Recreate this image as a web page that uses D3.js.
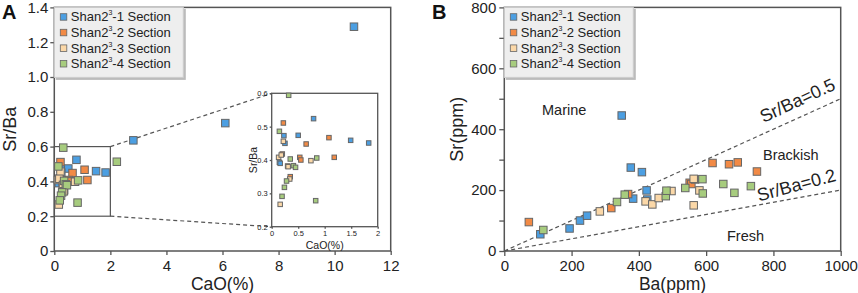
<!DOCTYPE html>
<html>
<head>
<meta charset="utf-8">
<script src="https://cdn.jsdelivr.net/npm/d3@7"></script>
<style>
  body { margin: 0; background: #fff; }
  svg { font-family: "Liberation Sans", Arial, sans-serif; }
</style>
</head>
<body>
<div id="chart"></div>
<script>
// section names and colours
const sections = ["Shan2³-1 Section", "Shan2³-2 Section", "Shan2³-3 Section", "Shan2³-4 Section"];
const colors = ["#4c9fe2", "#f28a45", "#fbd8a8", "#a7cc7e"];

// panel A: [CaO(%), Sr/Ba]
const caoSec1 = [[0.79,0.524],[0.23,0.473],[0.50,0.474],[1.49,0.459],[1.83,0.451],[0.25,0.45],[0.145,0.393],[0.16,0.39],[2.82,0.636],[6.1,0.735],[10.69,1.289]];
const caoSec2 = [[0.22,0.511],[1.08,0.467],[0.65,0.448],[0.2,0.418],[0.53,0.408],[0.55,0.40],[1.18,0.408],[0.3,0.382],[0.35,0.35]];
const caoSec3 = [[0.22,0.456],[0.13,0.408],[0.18,0.415],[0.74,0.398],[0.31,0.38],[0.34,0.343],[0.16,0.267]];
const caoSec4 = [[0.32,0.594],[0.145,0.486],[0.35,0.403],[0.85,0.406],[0.41,0.383],[0.45,0.378],[0.28,0.337],[0.24,0.318],[0.195,0.291],[0.83,0.278],[2.23,0.513]];

// panel B: [Ba(ppm), Sr(ppm)]
const baSec1 = [[107,55],[194,74],[225,100],[246,116],[376,274],[383,172],[409,259],[423,199],[425,169],[349,445]];
const baSec2 = [[73,95],[318,141],[368,187],[551,224],[556,220],[619,289],[668,285],[694,291],[751,261]];
const baSec3 = [[284,130],[420,163],[440,153],[459,174],[497,197],[563,150],[567,235],[580,199],[563,237]];
const baSec4 = [[116,69],[335,161],[358,185],[480,180],[482,198],[538,207],[589,236],[590,189],[651,220],[684,191],[733,213]];

// ticks
const aXTicks = [0,2,4,6,8,10,12];
const aYTicks = [0,0.2,0.4,0.6,0.8,1.0,1.2,1.4];
const insetXTicks = [0,0.5,1,1.5,2];
const insetYTicks = [0.2,0.3,0.4,0.5,0.6];
const bXTicks = [0,200,400,600,800,1000];
const bYTicks = [0,200,400,600,800];
const bYMinor = [100,300,500,700];

// ratio lines
const ratios = [0.5, 0.2];
const ratioLabels = ["Sr/Ba=0.5", "Sr/Ba=0.2"];

const width = 858, height = 293;
const axisColor = "#555";
const textColor = "#222";

const svg = d3.select("#chart").append("svg")
    .attr("width", width)
    .attr("height", height);

function styleAxis(g, size) {
    g.selectAll("path").remove();
    g.selectAll("line").attr("stroke", axisColor).attr("stroke-width", 1.3);
    g.selectAll("text").attr("fill", textColor).attr("font-size", size);
}

function frame(x, y) {
    svg.append("rect")
        .attr("x", x.range()[0]).attr("y", y.range()[1])
        .attr("width", x.range()[1] - x.range()[0])
        .attr("height", y.range()[0] - y.range()[1])
        .attr("fill", "none").attr("stroke", axisColor).attr("stroke-width", 1.5);
}

function points(g, data, x, y, color, size) {
    g.selectAll(null)
        .data(data)
        .enter().append("rect")
        .attr("x", d => x(d[0]) - size / 2)
        .attr("y", d => y(d[1]) - size / 2)
        .attr("width", size).attr("height", size)
        .attr("fill", color)
        .attr("stroke", "#666").attr("stroke-width", 1);
}

function legend(x0, y0) {
    const g = svg.append("g").attr("transform", `translate(${x0},${y0})`);
    g.append("rect").attr("x", 1.5).attr("y", 1.5).attr("width", 130).attr("height", 71).attr("fill", "#bbb");
    g.append("rect").attr("width", 129).attr("height", 70).attr("fill", "#eeeeee").attr("stroke", "#ccc");
    sections.forEach((s, i) => {
        const cy = 9.5 + i * 15.6;
        g.append("rect").attr("x", 6).attr("y", cy - 3.2).attr("width", 6.5).attr("height", 6.5)
            .attr("fill", colors[i]).attr("stroke", "#666").attr("stroke-width", 0.8);
        const t = g.append("text").attr("x", 16.5).attr("y", cy + 4.5)
            .attr("font-size", 13).attr("fill", textColor);
        t.append("tspan").text("Shan2");
        t.append("tspan").text("3").attr("font-size", 7).attr("dy", -6);
        t.append("tspan").text("-" + (i + 1) + " Section").attr("dy", 6);
    });
}

// ---------------- Panel A ----------------
const xA = d3.scaleLinear().domain([0, 12]).range([54.3, 390.7]);
const yA = d3.scaleLinear().domain([0, 1.4]).range([251, 7.4]);

frame(xA, yA);
svg.append("g").attr("transform", `translate(0,${yA(0)})`)
    .call(d3.axisBottom(xA).tickValues(aXTicks).tickSize(4).tickPadding(5).tickFormat(d3.format("d")))
    .call(g => styleAxis(g, 15));
svg.append("g").attr("transform", `translate(${xA(0)},0)`)
    .call(d3.axisLeft(yA).tickValues(aYTicks).tickSize(4).tickPadding(2).tickFormat(d => d === 0 ? "0" : d3.format(".1f")(d)))
    .call(g => styleAxis(g, 15));

// zoom box and connectors
const xI = d3.scaleLinear().domain([0, 2]).range([271.7, 377.7]);
const yI = d3.scaleLinear().domain([0.2, 0.6]).range([226.7, 93.3]);

svg.append("rect")
    .attr("x", xA(0)).attr("y", yA(0.6))
    .attr("width", xA(2) - xA(0)).attr("height", yA(0.2) - yA(0.6))
    .attr("fill", "none").attr("stroke", axisColor).attr("stroke-width", 1.2);

[0.6, 0.2].forEach(v => {
    svg.append("line")
        .attr("x1", xA(2)).attr("y1", yA(v))
        .attr("x2", xI(0)).attr("y2", yI(v))
        .attr("stroke", axisColor).attr("stroke-width", 1.2).attr("stroke-dasharray", "4,3");
});

const gA = svg.append("g");
[caoSec1, caoSec2, caoSec3, caoSec4].forEach((d, i) => points(gA, d, xA, yA, colors[i], 7.5));

// inset
svg.append("rect")
    .attr("x", xI(0)).attr("y", yI(0.6))
    .attr("width", xI(2) - xI(0)).attr("height", yI(0.2) - yI(0.6))
    .attr("fill", "#fff").attr("stroke", axisColor).attr("stroke-width", 1.3);
svg.append("g").attr("transform", `translate(0,${yI(0.2)})`)
    .call(d3.axisBottom(xI).tickValues(insetXTicks).tickSize(2).tickPadding(2).tickFormat(d3.format("")))
    .call(g => styleAxis(g, 7.5));
svg.append("g").attr("transform", `translate(${xI(0)},0)`)
    .call(d3.axisLeft(yI).tickValues(insetYTicks).tickSize(2).tickPadding(2).tickFormat(d3.format(".1f")))
    .call(g => styleAxis(g, 7.5));
svg.append("text").attr("x", (xI(0) + xI(2)) / 2).attr("y", 249)
    .attr("text-anchor", "middle").attr("font-size", 10.5).attr("fill", textColor).text("CaO(%)");
svg.append("text").attr("transform", `translate(257,${(yI(0.2) + yI(0.6)) / 2}) rotate(-90)`)
    .attr("text-anchor", "middle").attr("font-size", 10.5).attr("fill", textColor).text("Sr/Ba");

const gI = svg.append("g");
[caoSec1, caoSec2, caoSec3, caoSec4].forEach((d, i) =>
    points(gI, d.filter(p => p[0] <= 2 && p[1] >= 0.2 && p[1] <= 0.6), xI, yI, colors[i], 4.5));

legend(xA(0), yA(1.4));

svg.append("text").attr("x", (xA(0) + xA(12)) / 2).attr("y", 289.5)
    .attr("text-anchor", "middle").attr("font-size", 17.5).attr("fill", textColor).text("CaO(%)");
svg.append("text").attr("transform", `translate(16,${(yA(0) + yA(1.4)) / 2}) rotate(-90)`)
    .attr("text-anchor", "middle").attr("font-size", 18).attr("fill", textColor).text("Sr/Ba");
svg.append("text").attr("x", 2).attr("y", 19).attr("font-size", 20).attr("font-weight", "bold")
    .attr("fill", "#111").text("A");

// ---------------- Panel B ----------------
const xB = d3.scaleLinear().domain([0, 1000]).range([504.3, 840.7]);
const yB = d3.scaleLinear().domain([0, 800]).range([251, 7.4]);

frame(xB, yB);
svg.append("g").attr("transform", `translate(0,${yB(0)})`)
    .call(d3.axisBottom(xB).tickValues(bXTicks).tickSize(5).tickPadding(4).tickFormat(d3.format("d")))
    .call(g => styleAxis(g, 15));
svg.append("g").attr("transform", `translate(${xB(0)},0)`)
    .call(d3.axisLeft(yB).tickValues(bYTicks).tickSize(5).tickPadding(3).tickFormat(d3.format("d")))
    .call(g => styleAxis(g, 15));
svg.append("g").attr("transform", `translate(${xB(0)},0)`)
    .call(d3.axisLeft(yB).tickValues(bYMinor).tickSize(5).tickFormat(""))
    .call(g => styleAxis(g, 15));

// Sr/Ba ratio lines
ratios.forEach(r => {
    svg.append("line")
        .attr("x1", xB(0)).attr("y1", yB(0))
        .attr("x2", xB(1000)).attr("y2", yB(1000 * r))
        .attr("stroke", axisColor).attr("stroke-width", 1.2).attr("stroke-dasharray", "4,3");
});
svg.append("text").attr("transform", "translate(800,106) rotate(-25)")
    .attr("text-anchor", "middle").attr("font-size", 18).attr("fill", textColor).text(ratioLabels[0]);
svg.append("text").attr("transform", "translate(798,191) rotate(-15)")
    .attr("text-anchor", "middle").attr("font-size", 18).attr("fill", textColor).text(ratioLabels[1]);

svg.append("text").attr("x", 542).attr("y", 115).attr("font-size", 14.5).attr("fill", textColor).text("Marine");
svg.append("text").attr("x", 763).attr("y", 160).attr("font-size", 14.5).attr("fill", textColor).text("Brackish");
svg.append("text").attr("x", 727).attr("y", 241).attr("font-size", 14.5).attr("fill", textColor).text("Fresh");

const gB = svg.append("g");
[baSec1, baSec2, baSec3, baSec4].forEach((d, i) => points(gB, d, xB, yB, colors[i], 7.5));

legend(xB(0), yB(800));

svg.append("text").attr("x", (xB(0) + xB(1000)) / 2).attr("y", 289.5)
    .attr("text-anchor", "middle").attr("font-size", 17.5).attr("fill", textColor).text("Ba(ppm)");
svg.append("text").attr("transform", `translate(463,${(yB(0) + yB(800)) / 2}) rotate(-90)`)
    .attr("text-anchor", "middle").attr("font-size", 18).attr("fill", textColor).text("Sr(ppm)");
svg.append("text").attr("x", 432).attr("y", 19).attr("font-size", 20).attr("font-weight", "bold")
    .attr("fill", "#111").text("B");
</script>
</body>
</html>
